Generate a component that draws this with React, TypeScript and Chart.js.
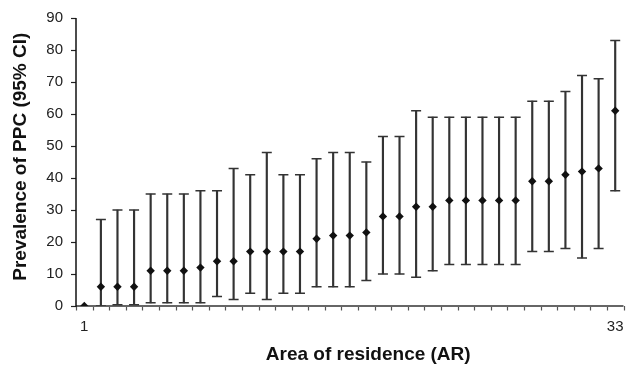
import React, { useEffect, useRef } from "react";
import { Chart, registerables } from "chart.js";

Chart.register(...registerables);

const categories = [
  "1", "2", "3", "4", "5", "6", "7", "8", "9", "10", "11",
  "12", "13", "14", "15", "16", "17", "18", "19", "20", "21", "22",
  "23", "24", "25", "26", "27", "28", "29", "30", "31", "32", "33",
];

const prevalence = [
  0, 6, 6, 6, 11, 11, 11, 12, 14, 14, 17,
  17, 17, 17, 21, 22, 22, 23, 28, 28, 31, 31,
  33, 33, 33, 33, 33, 39, 39, 41, 42, 43, 61,
];

const ciLower = [
  0, 0, 0.4, 0.4, 1, 1, 1, 1, 3, 2, 4,
  2, 4, 4, 6, 6, 6, 8, 10, 10, 9, 11,
  13, 13, 13, 13, 13, 17, 17, 18, 15, 18, 36,
];

const ciUpper = [
  0, 27, 30, 30, 35, 35, 35, 36, 36, 43, 41,
  48, 41, 41, 46, 48, 48, 45, 53, 53, 61, 59,
  59, 59, 59, 59, 59, 64, 64, 67, 72, 71, 83,
];

const yTicks = [0, 10, 20, 30, 40, 50, 60, 70, 80, 90];

const FONT = "'Liberation Sans', Arial, Helvetica, sans-serif";

// Draws the axis lines and tick marks from the chart's own scales.
const axisPlugin = {
  id: "axisLines",
  beforeDatasetsDraw(chart: any) {
    const { ctx, chartArea: ca, scales } = chart;
    const x = scales.x;
    const y = scales.y;
    ctx.save();
    ctx.setLineDash([]);
    ctx.strokeStyle = "#222";
    ctx.lineWidth = 1.2;
    y.ticks.forEach((t: any) => {
      const py = Math.round(y.getPixelForValue(t.value)) + 0.5;
      ctx.beginPath();
      ctx.moveTo(ca.left - 5, py);
      ctx.lineTo(ca.left, py);
      ctx.stroke();
    });
    ctx.strokeStyle = "#555";
    ctx.lineWidth = 1.2;
    for (let i = 0; i <= categories.length; i++) {
      const px = Math.round(x.getPixelForValue(i - 0.5)) + 0.5;
      ctx.beginPath();
      ctx.moveTo(px, ca.bottom);
      ctx.lineTo(px, ca.bottom + 4.5);
      ctx.stroke();
    }
    ctx.strokeStyle = "#666";
    ctx.lineWidth = 2;
    ctx.beginPath();
    ctx.moveTo(ca.left, ca.bottom);
    ctx.lineTo(ca.right, ca.bottom);
    ctx.stroke();
    ctx.strokeStyle = "#111";
    ctx.lineWidth = 1.5;
    ctx.beginPath();
    ctx.moveTo(ca.left, ca.top);
    ctx.lineTo(ca.left, ca.bottom + 1);
    ctx.stroke();
    ctx.restore();
  },
};

export default function App() {
  const canvasRef = useRef<HTMLCanvasElement | null>(null);

  useEffect(() => {
    document.body.style.margin = "0";
    const canvas = canvasRef.current;
    if (!canvas) return;

    const hasCI = ciUpper.map((u, i) => u > ciLower[i]);
    const ranges = ciLower.map((lo, i) => (hasCI[i] ? [lo, ciUpper[i]] : null));
    const lowCaps = ciLower.map((lo, i) => (hasCI[i] ? lo : null));
    const highCaps = ciUpper.map((hi, i) => (hasCI[i] ? hi : null));

    const chart = new Chart(canvas, {
      type: "bar",
      data: {
        labels: categories,
        datasets: [
          {
            type: "line",
            label: "Prevalence",
            data: prevalence,
            showLine: false,
            pointStyle: "rectRot",
            pointRadius: 4.2,
            pointBackgroundColor: "#111",
            pointBorderColor: "#111",
            pointBorderWidth: 0,
            order: 0,
          } as any,
          {
            type: "line",
            label: "Upper",
            data: highCaps,
            showLine: false,
            pointStyle: "line",
            pointRadius: 5,
            pointBorderColor: "#333",
            pointBorderWidth: 1.5,
            order: 1,
          } as any,
          {
            type: "line",
            label: "Lower",
            data: lowCaps,
            showLine: false,
            pointStyle: "line",
            pointRadius: 5,
            pointBorderColor: "#333",
            pointBorderWidth: 1.5,
            order: 1,
          } as any,
          {
            type: "bar",
            label: "CI",
            data: ranges as any,
            backgroundColor: "#333",
            borderWidth: 0,
            barThickness: 1.5,
            order: 2,
          } as any,
        ],
      },
      options: {
        animation: false,
        responsive: true,
        maintainAspectRatio: false,
        layout: { padding: { top: 18, right: 0, bottom: 0, left: 0 } },
        plugins: {
          legend: { display: false },
          tooltip: { enabled: false },
        },
        scales: {
          x: {
            type: "category",
            offset: true,
            grid: {
              display: true,
              offset: true,
              drawOnChartArea: false,
              drawTicks: true,
              tickLength: 12,
              color: "rgba(0,0,0,0)",
            },
            border: { display: false },
            ticks: {
              autoSkip: false,
              maxRotation: 0,
              padding: 0,
              color: "#222",
              font: { family: FONT, size: 15 },
              callback: (_v: any, i: number) =>
                i === 0 || i === categories.length - 1 ? categories[i] : "",
            },
            title: {
              display: true,
              text: "       Area of residence (AR)",
              color: "#111",
              font: { family: FONT, size: 19, weight: "bold" },
              padding: { top: 0, bottom: 4 },
            },
            afterFit: (scale: any) => {
              scale.height = 64;
              scale.paddingLeft = 0;
              scale.paddingRight = 0;
            },
          },
          y: {
            min: 0,
            max: 90,
            afterBuildTicks: (scale: any) => {
              scale.ticks = yTicks.map((v) => ({ value: v }));
            },
            grid: {
              display: true,
              drawOnChartArea: false,
              drawTicks: true,
              tickLength: 5,
              color: "rgba(0,0,0,0)",
            },
            border: { display: false },
            ticks: {
              padding: 8,
              color: "#222",
              font: { family: FONT, size: 15 },
            },
            title: {
              display: true,
              text: "  Prevalence of PPC (95% CI)",
              color: "#111",
              font: { family: FONT, size: 19, weight: "bold" },
              padding: { top: 9, bottom: 0 },
            },
            afterFit: (scale: any) => {
              scale.width = 76;
              scale.paddingTop = 0;
              scale.paddingBottom = 0;
            },
          },
        },
      } as any,
      plugins: [axisPlugin],
    });

    return () => {
      chart.destroy();
    };
  }, []);

  return (
    <div style={{ width: 630, height: 370, position: "relative", background: "#fff" }}>
      <canvas ref={canvasRef} />
    </div>
  );
}
